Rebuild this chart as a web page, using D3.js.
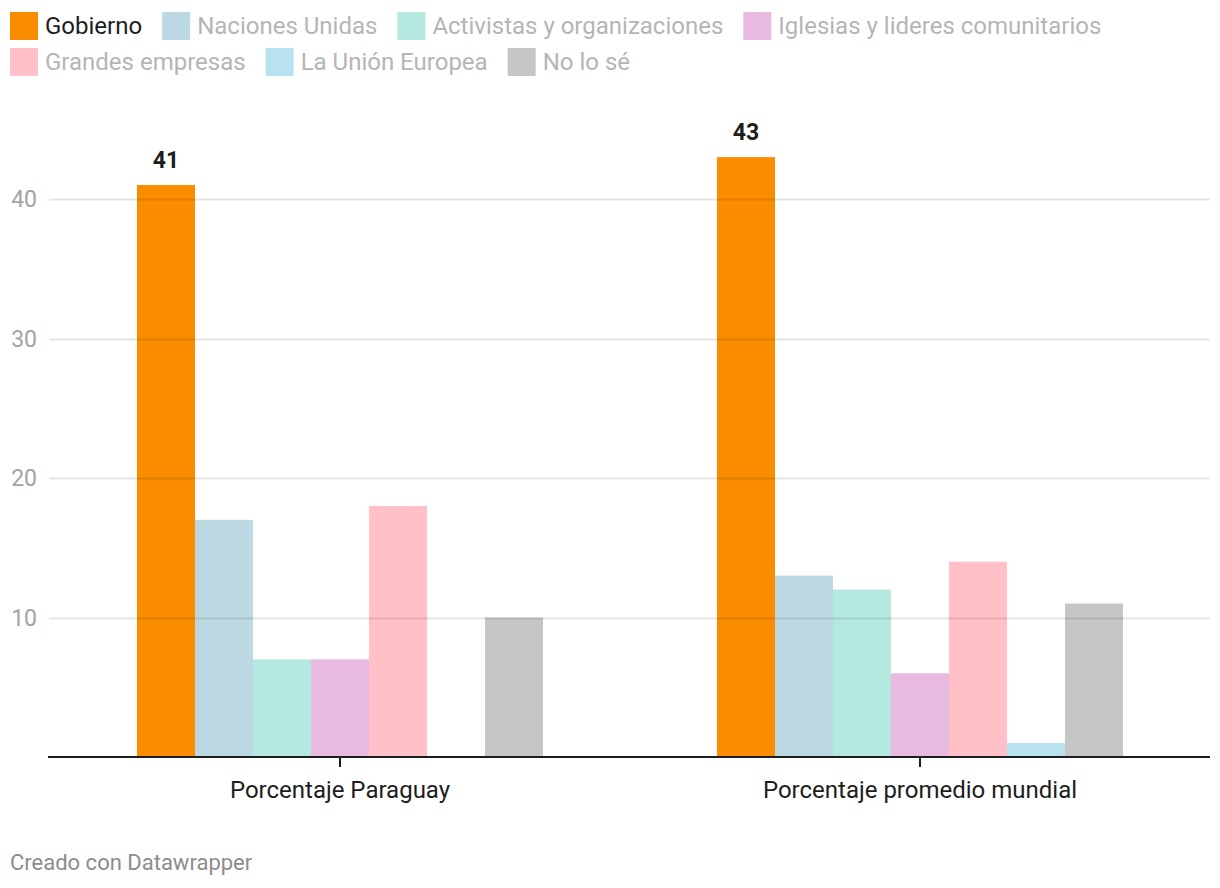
<!DOCTYPE html>
<html><head><meta charset="utf-8">
<script src="https://cdn.jsdelivr.net/npm/d3@7"></script>
<style>body{margin:0;background:#fff;font-family:Roboto,sans-serif}</style>
</head><body>
<svg id="c" width="1220" height="888"></svg>
<script>
const groups = ["Porcentaje Paraguay", "Porcentaje promedio mundial"];
const series = ["Gobierno", "Naciones Unidas", "Activistas y organizaciones", "Iglesias y lideres comunitarios", "Grandes empresas", "La Unión Europea", "No lo sé"];
const colors = ["#fa8c00", "#bcd8e2", "#b4e9e0", "#e8bae2", "#ffc0c7", "#b8e2f0", "#c6c6c6"];
const paraguay = [41, 17, 7, 7, 18, 0, 10];
const mundial = [43, 13, 12, 6, 14, 1, 11];
const yTicks = [10, 20, 30, 40];
const labeled = ["Gobierno"];
const values = [paraguay, mundial];

const svg = d3.select("#c");
const x0 = d3.scaleBand().domain(groups).range([50, 1210]).paddingInner(0.3).paddingOuter(0.15);
const x1 = d3.scaleBand().domain(series).range([0, x0.bandwidth()]);
const y = d3.scaleLinear().domain([0, 40]).range([757, 199]);

// legend
const leg = svg.append("g");
let lx = 10, ly = 26;
series.forEach((s, i) => {
  const g = leg.append("g");
  g.append("rect").attr("x", 0).attr("y", -14).attr("width", 28).attr("height", 28).attr("fill", colors[i]);
  const t = g.append("text").attr("x", 35).attr("y", 0).attr("dy", "0.35em")
    .attr("font-size", 24).attr("fill", i === 0 ? "#1d1d1d" : "#b5b5b5").text(s);
  const w = 35 + t.node().getComputedTextLength();
  if (lx + w > 1210) { lx = 10; ly += 36; }
  g.attr("transform", `translate(${lx},${ly})`);
  lx += w + 20;
});

// y tick labels
svg.append("g").selectAll("text").data(yTicks).join("text")
  .attr("x", 37).attr("y", d => y(d)).attr("dy", "0.35em").attr("text-anchor", "end")
  .attr("font-size", 23).attr("fill", "#a3a3a3").text(d => d);

// bars
groups.forEach((gname, gi) => {
  const g = svg.append("g").attr("transform", `translate(${x0(gname)},0)`);
  g.selectAll("rect").data(series.map((s, i) => ({s, v: values[gi][i], c: colors[i]}))).join("rect")
    .attr("x", d => x1(d.s)).attr("width", x1.bandwidth())
    .attr("y", d => y(d.v)).attr("height", d => y(0) - y(d.v)).attr("fill", d => d.c);
  g.selectAll("text").data(series.map((s, i) => ({s, v: values[gi][i]})).filter(d => labeled.includes(d.s))).join("text")
    .attr("x", d => x1(d.s) + x1.bandwidth() / 2).attr("y", d => y(d.v) - 17)
    .attr("text-anchor", "middle").attr("font-size", 23).attr("font-weight", "bold").attr("fill", "#1d1d1d")
    .text(d => d.v);
});

// grid lines over bars
svg.append("g").selectAll("line").data(yTicks).join("line")
  .attr("x1", 49).attr("x2", 1210).attr("y1", d => Math.round(y(d)) + 0.5).attr("y2", d => Math.round(y(d)) + 0.5)
  .attr("stroke", "rgba(0,0,0,0.1)").attr("stroke-width", 2);

// baseline & ticks
svg.append("line").attr("x1", 48).attr("x2", 1210).attr("y1", 757).attr("y2", 757).attr("stroke", "#1d1d1d").attr("stroke-width", 2);
svg.append("g").selectAll("line").data(groups).join("line")
  .attr("x1", d => x0(d) + x0.bandwidth() / 2).attr("x2", d => x0(d) + x0.bandwidth() / 2)
  .attr("y1", 757).attr("y2", 767).attr("stroke", "#1d1d1d").attr("stroke-width", 2);
svg.append("g").selectAll("text").data(groups).join("text")
  .attr("x", d => x0(d) + x0.bandwidth() / 2).attr("y", 790).attr("dy", "0.35em").attr("text-anchor", "middle")
  .attr("font-size", 24).attr("fill", "#1d1d1d").text(d => d);

svg.append("text").attr("x", 10).attr("y", 862).attr("dy", "0.35em").attr("font-size", 22).attr("fill", "#8c8c8c").text("Creado con Datawrapper");
</script>
</body></html>
